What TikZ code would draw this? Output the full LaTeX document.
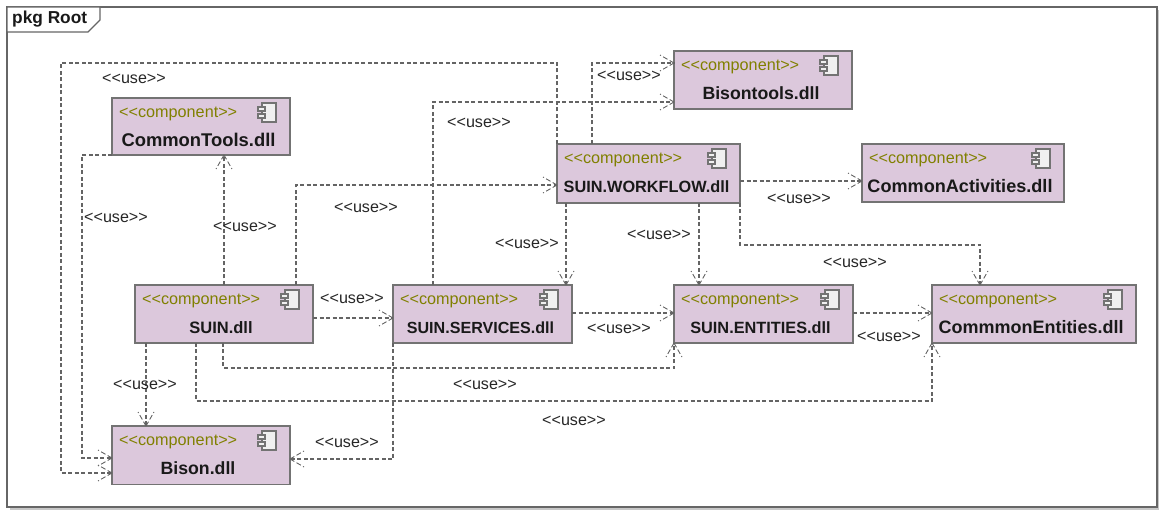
\documentclass[tikz,border=0pt]{standalone}
\usepackage{fontspec}
\setmainfont{Liberation Sans}
\usetikzlibrary{calc,arrows.meta}
\definecolor{compfill}{RGB}{220,200,220}
\definecolor{edgegray}{RGB}{115,115,115}
\definecolor{linkgray}{RGB}{100,100,100}
\definecolor{stereo}{RGB}{128,128,0}
\definecolor{iconfill}{RGB}{240,240,240}
\pgfdeclarearrow{
  name=UseHead,
  setup code={
    \pgfarrowssettipend{0pt}
    \pgfarrowssetlineend{0pt}
    \pgfarrowssetvisualbackend{-12pt}
    \pgfarrowssetbackend{-14pt}
    \pgfarrowshullpoint{0pt}{0pt}
    \pgfarrowshullpoint{-14pt}{8pt}
    \pgfarrowshullpoint{-14pt}{-8pt}
  },
  drawing code={
    \pgfsetlinewidth{0.9pt}
    \pgfsetdash{{5pt}{2.5pt}}{0pt}
    \pgfpathmoveto{\pgfqpoint{0pt}{0pt}}
    \pgfpathlineto{\pgfqpoint{-14pt}{8pt}}
    \pgfpathmoveto{\pgfqpoint{0pt}{0pt}}
    \pgfpathlineto{\pgfqpoint{-14pt}{-8pt}}
    \pgfusepathqstroke
  },
  cache=false
}
\tikzset{
  compbox/.style={draw=edgegray,fill=compfill,line width=1.4pt,rectangle,inner sep=0pt,outer sep=0pt,anchor=north west},
  stereotext/.style={anchor=west,inner sep=0pt,text=stereo,font=\fontsize{16.2}{18}\selectfont},
  nametext/.style={anchor=center,inner sep=0pt,text=black!90},
  uselabel/.style={anchor=center,inner sep=0pt,text=black!85,font=\fontsize{16.1}{18}\selectfont},
  uselink/.style={draw=linkgray,line width=1.25pt,dash pattern=on 4pt off 2.5pt,-{UseHead}},
  iconpart/.style={draw=edgegray,fill=iconfill,line width=1.2pt}
}
\newcommand\guil[1]{<{}<#1>{}>}
\newcommand\compnode[8]{% name, x, y, w, h, text, font size, dx
  \node[compbox,minimum width=#4pt,minimum height=#5pt] (#1) at (#2,#3) {};
  \node[stereotext] (#1-st) at ($(#1.north west)+(7,16)$) {\guil{component}};
  \node[nametext,font=\fontsize{#7}{20}\selectfont\bfseries] (#1-tx) at ($(#1.north)+(#8,42.3)$) {#6};
  \begin{scope}[shift={(#1.north east)}]
    \path[iconpart] (-28,5) rectangle (-14,24);
    \path[iconpart] (-32,9) rectangle (-25,13);
    \path[iconpart] (-32,16) rectangle (-25,20);
  \end{scope}
}
\begin{document}
\begin{tikzpicture}[x=1pt,y=-1pt]
\useasboundingbox (0,0) rectangle (1159,510);
\fill[black!22] (10,10) rectangle (1159,510);
\node[draw=black!60,fill=white,line width=1.5pt,rectangle,inner sep=0pt,outer sep=0pt,anchor=north west,minimum width=1150pt,minimum height=500pt] (frame) at (7,7) {};
\path[draw=black!60,fill=white,line width=1.2pt] (frame.north west) -- ++(93,0) -- ++(0,13) -- ++(-12,12) -- ++(-81,0) -- cycle;
\node[anchor=west,inner sep=0pt,font=\fontsize{17.3}{18}\selectfont\bfseries,text=black!90] (pkg) at (12,19.5) {pkg Root};

\compnode{ct}{112}{98}{178}{57}{CommonTools.dll}{18.4}{-2.5}
\compnode{bison}{112}{426}{178}{58.5}{Bison.dll}{17.7}{-3}
\compnode{suin}{135}{285}{178}{58}{SUIN.dll}{16.5}{-3}
\compnode{serv}{393}{285}{179}{58}{SUIN.SERVICES.dll}{16.1}{-2}
\compnode{ent}{674}{285}{179}{58}{SUIN.ENTITIES.dll}{16.3}{-3}
\compnode{cent}{932}{285}{204}{58}{CommmonEntities.dll}{18}{-3}
\compnode{ca}{862}{144}{202}{58}{CommonActivities.dll}{18.1}{-3}
\compnode{wf}{557}{144}{183}{59}{SUIN.WORKFLOW.dll}{16.3}{-2}
\compnode{bt}{674}{51}{178}{58}{Bisontools.dll}{17.7}{-2}

\coordinate (c1) at (61,63);
\draw[uselink] (wf.north west) |- (c1) |- ($(bison.north west)+(0,47)$);
\draw[uselink] (ct.south west) -- ++(-30,0) |- ($(bison.north west)+(0,32)$);
\draw[uselink] ($(suin.north west)+(89,0)$) -- ($(ct.south west)+(112,0)$);
\draw[uselink] ($(suin.north west)+(161,0)$) |- ($(wf.north west)+(0,41)$);
\draw[uselink] ($(suin.north east)+(0,33)$) -- ($(serv.north west)+(0,33)$);
\draw[uselink] ($(suin.south west)+(11,0)$) -- ($(bison.north west)+(34,0)$);
\draw[uselink] ($(suin.south west)+(88,0)$) -- ++(0,25) -| (ent.south west);
\draw[uselink] ($(suin.south west)+(61,0)$) -- ++(0,58) -| (cent.south west);
\draw[uselink] (serv.south west) |- ($(bison.north east)+(0,33)$);
\draw[uselink] ($(serv.north west)+(40,0)$) |- ($(bt.south west)+(0,-7)$);
\draw[uselink] ($(wf.north west)+(35,0)$) |- ($(bt.north west)+(0,12)$);
\draw[uselink] ($(wf.south west)+(9,0)$) -- ($(serv.north west)+(173,0)$);
\draw[uselink] ($(wf.south west)+(142,0)$) -- ($(ent.north west)+(25,0)$);
\draw[uselink] ($(wf.north east)+(0,37)$) -- ($(ca.north west)+(0,37)$);
\draw[uselink] (wf.south east) -- ++(0,42) -| ($(cent.north west)+(48,0)$);
\draw[uselink] ($(serv.north east)+(0,28)$) -- ($(ent.north west)+(0,28)$);
\draw[uselink] ($(ent.north east)+(0,28)$) -- ($(cent.north west)+(0,28)$);

\node[uselabel] (u1) at (134,79) {\guil{use}};
\node[uselabel] (u2) at (116,218) {\guil{use}};
\node[uselabel] (u3) at (245,227) {\guil{use}};
\node[uselabel] (u4) at (366,208) {\guil{use}};
\node[uselabel] (u5) at (352,299) {\guil{use}};
\node[uselabel] (u6) at (145,385) {\guil{use}};
\node[uselabel] (u7) at (347,443) {\guil{use}};
\node[uselabel] (u8) at (479,123) {\guil{use}};
\node[uselabel] (u9) at (629,76) {\guil{use}};
\node[uselabel] (u10) at (527,244) {\guil{use}};
\node[uselabel] (u11) at (659,235) {\guil{use}};
\node[uselabel] (u12) at (799,199) {\guil{use}};
\node[uselabel] (u13) at (855,263) {\guil{use}};
\node[uselabel] (u14) at (619,329) {\guil{use}};
\node[uselabel] (u15) at (485,385) {\guil{use}};
\node[uselabel] (u16) at (574,421) {\guil{use}};
\node[uselabel] (u17) at (889,337) {\guil{use}};
\end{tikzpicture}
\end{document}
